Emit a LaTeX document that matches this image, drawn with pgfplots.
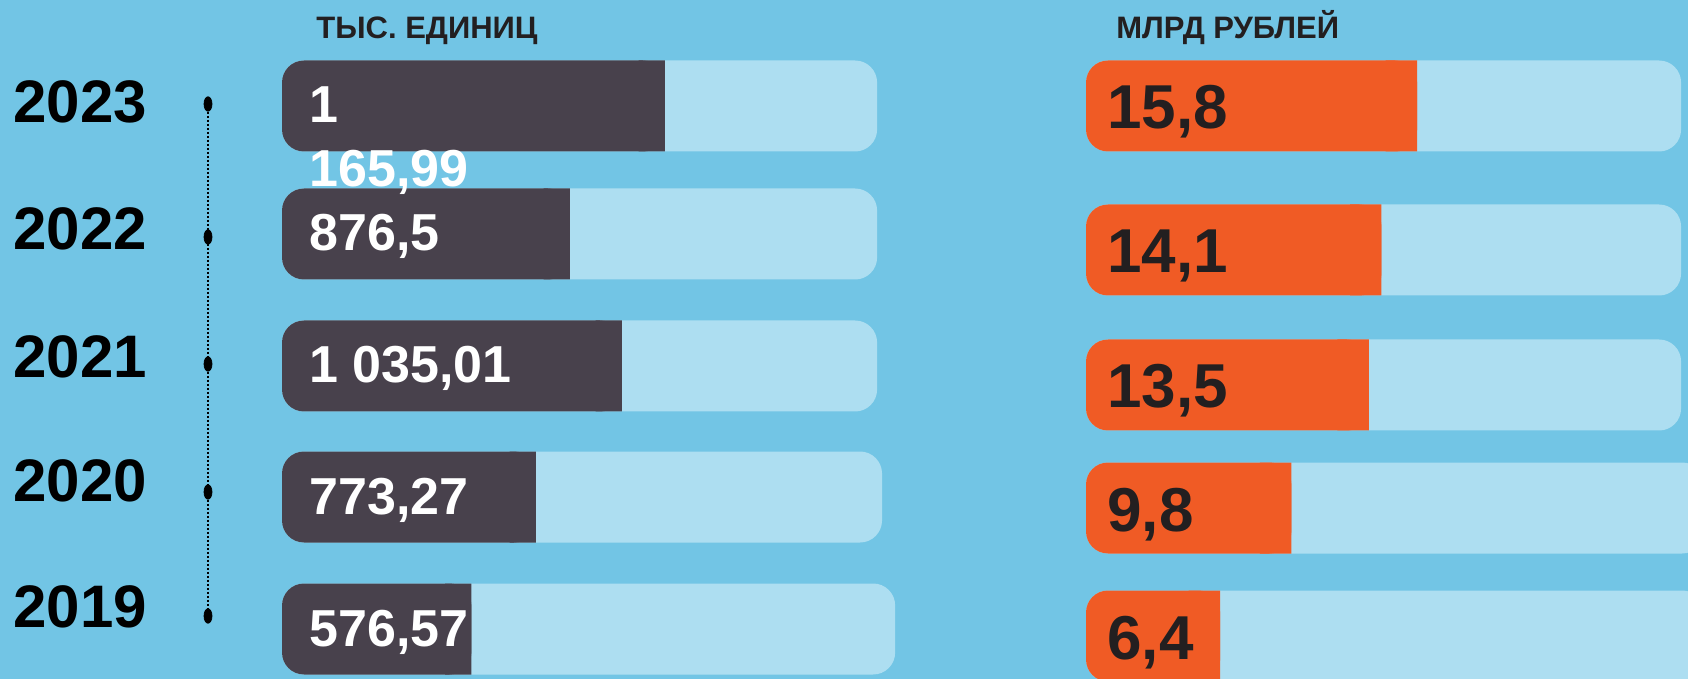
\documentclass[border=0pt]{standalone}
\usepackage{pgfplots}
\pgfplotsset{compat=1.18}
\usepackage{pgfplotstable}
\usepackage{fontspec}
\setmainfont{Liberation Sans}
\definecolor{bg}{HTML}{72C5E5}
\definecolor{track}{HTML}{ADDEF1}
\definecolor{dark}{HTML}{48414C}
\definecolor{orng}{HTML}{F05B25}
\definecolor{ink}{HTML}{231F20}
\protected\def\labA{\rlap{\raisebox{-32pt}{165,99}}1}

\pgfplotstableread[col sep=semicolon]{
year;pos;units;umax;lab
2023;106;1165.99;1812;\labA
2022;234;876.5;1812;876,5
2021;366;1035.01;1812;1 035,01
2020;497;773.27;1827;773,27
2019;629;576.57;1867;576,57
}\leftdata

\pgfplotstableread[col sep=semicolon]{
year;pos;money;mmax;lab
2023;106;15.8;28.4;15,8
2022;250;14.1;28.4;14,1
2021;385;13.5;28.4;13,5
2020;508;9.8;29.5;9,8
2019;636;6.4;29.5;6,4
}\rightdata

\pgfplotsset{
  panel/.style={
    scale only axis, hide axis, enlargelimits=false,
    height=339.5pt, ymin=0, ymax=679, y dir=reverse,
    anchor=south west,
  },
  labelplot/.style={
    draw=none, mark=none,
    point meta=explicit symbolic, nodes near coords,
  },
}

\begin{document}
\begin{tikzpicture}
\path[use as bounding box] (0,0) rectangle (844pt,339.5pt);
\fill[bg] (0,0) rectangle (844pt,339.5pt);

% ---------- left panel: base bars ----------
\begin{axis}[panel, at={(141pt,0pt)}, width=312pt, xmin=0, xmax=1900]
  \addplot[xbar, bar shift=0pt, bar width=45.5pt, fill=track, draw=none, rounded corners=11pt]
    table[x=umax, y=pos]{\leftdata};
  \addplot[xbar, bar shift=0pt, bar width=45.5pt, fill=dark, draw=none, rounded corners=11pt]
    table[x=units, y=pos]{\leftdata};
\end{axis}
% square right end of dark bars
\begin{axis}[panel, at={(141pt,0pt)}, width=312pt, xmin=0, xmax=1900, xbar stacked, bar width=45.5pt]
  \addplot[draw=none, fill=none] table[x expr=\thisrow{units}-80, y=pos]{\leftdata};
  \addplot[draw=none, fill=dark] table[x expr=80, y=pos]{\leftdata};
\end{axis}

% ---------- right panel: base bars ----------
\begin{axis}[panel, at={(543pt,0pt)}, width=301pt, xmin=0, xmax=28.73]
  \addplot[xbar, bar shift=0pt, bar width=45.5pt, fill=track, draw=none, rounded corners=11pt]
    table[x=mmax, y=pos]{\rightdata};
  \addplot[xbar, bar shift=0pt, bar width=45.5pt, fill=orng, draw=none, rounded corners=11pt]
    table[x=money, y=pos]{\rightdata};
\end{axis}
\begin{axis}[panel, at={(543pt,0pt)}, width=301pt, xmin=0, xmax=28.73, xbar stacked, bar width=45.5pt]
  \addplot[draw=none, fill=none] table[x expr=\thisrow{money}-1.5, y=pos]{\rightdata};
  \addplot[draw=none, fill=orng] table[x expr=1.5, y=pos]{\rightdata};
\end{axis}

% ---------- frame: timeline, labels, titles ----------
\begin{axis}[panel, at={(0pt,0pt)}, width=844pt, xmin=0, xmax=1688, clip=false]
  \addplot[black, line width=0.8pt, dash pattern=on 0.8pt off 1.2pt]
    coordinates {(208,104) (208,616)};
  \addplot[only marks, mark=*, mark size=3.6pt, mark options={black, xscale=0.55}]
    coordinates {(208,104) (208,237) (208,364) (208,492) (208,616)};
  % value labels (left)
  \addplot[labelplot,
    every node near coord/.append style={anchor=base west, inner sep=0pt, yshift=-8.5pt,
      text=white, font=\bfseries\fontsize{26}{31}\selectfont}]
    table[x expr=309, y=pos, meta=lab]{\leftdata};
  % value labels (right)
  \addplot[labelplot,
    every node near coord/.append style={anchor=base west, inner sep=0pt, yshift=-11.5pt,
      text=ink, font=\bfseries\fontsize{31}{37}\selectfont}]
    table[x expr=1107, y=pos, meta=lab]{\rightdata};
  % years
  \begin{scope}[every node/.style={anchor=base west, inner sep=0pt, text=black,
      font=\bfseries\fontsize{30}{36}\selectfont}]
    \node at (axis cs:13,123) {2023};
    \node at (axis cs:13,250) {2022};
    \node at (axis cs:13,378) {2021};
    \node at (axis cs:13,502) {2020};
    \node at (axis cs:13,627) {2019};
  \end{scope}
  % titles
  \node[anchor=base west, inner sep=0pt, text=ink, font=\bfseries\fontsize{15.5}{18}\selectfont]
    at (axis cs:316,39) {ТЫС. ЕДИНИЦ};
  \node[anchor=base west, inner sep=0pt, text=ink, font=\bfseries\fontsize{15.5}{18}\selectfont]
    at (axis cs:1116,39) {МЛРД РУБЛЕЙ};
\end{axis}
\end{tikzpicture}
\end{document}
